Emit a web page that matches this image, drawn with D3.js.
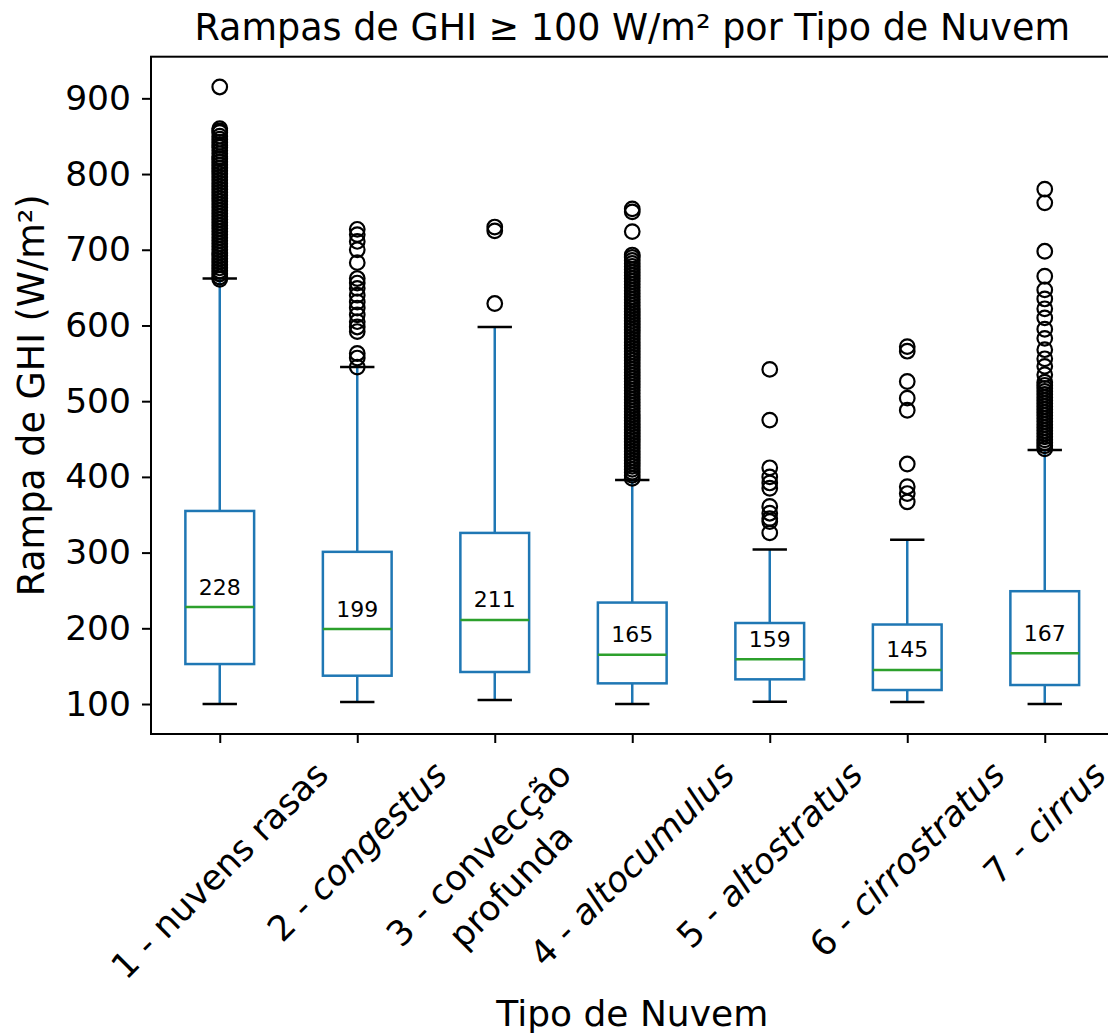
<!DOCTYPE html>
<html>
<head>
<meta charset="utf-8">
<script src="https://cdn.jsdelivr.net/npm/d3@7"></script>
<style>
  html, body { margin: 0; padding: 0; background: #fff; }
  svg { display: block; font-family: "DejaVu Sans", sans-serif; }
</style>
</head>
<body>
<svg id="chart" width="1108" height="1033"></svg>
<script>
// ---------- DATA ----------
// each category: [prefix (upright), name, italic?] ; "\n" splits lines
const categoryPrefixes = ["1 - ", "2 - ", "3 - ", "4 - ", "5 - ", "6 - ", "7 - "];
const categoryNames    = ["nuvens rasas", "congestus", "convecção\nprofunda", "altocumulus", "altostratus", "cirrostratus", "cirrus"];
const categoryItalic   = [false, true, false, true, true, true, true];

const q1Values     = [152.8, 137.4, 142.3, 127.3, 132.6, 118.5, 125.1];
const medianValues = [228, 199, 211, 165, 159, 145, 167];
const q3Values     = [355, 301, 326, 234, 207, 205, 249];
const whiskerLow   = [100, 102.6, 105.3, 100, 103, 102.6, 100];
const whiskerHigh  = [662, 545, 598, 396, 304, 317, 435.5];
const medianLabels = ["228", "199", "211", "165", "159", "145", "167"];

const fliers1 = [915, 860, 857, 855, 850, 846, 842, 838, 835, 831, 827, 823, 820, 816, 812, 808, 804, 800,
  796, 792, 788, 784, 780, 776, 772, 768, 764, 760, 756, 752, 748, 744, 740, 736, 732, 728, 724, 720,
  716, 712, 708, 704, 700, 696, 692, 688, 684, 680, 676, 672, 668, 664, 661];
const fliers2 = [727, 720, 711, 700, 683, 662, 656, 649, 640, 631, 623, 614, 605, 598, 592, 563, 557, 545];
const fliers3 = [730, 725, 629];
const fliers4 = [754, 750, 724, 693, 690, 686, 682, 678, 674, 670, 666, 662, 658, 654, 650, 646, 642, 638,
  634, 630, 626, 622, 618, 614, 610, 606, 602, 598, 594, 590, 586, 582, 578, 574, 570, 566, 562, 558,
  554, 550, 546, 542, 538, 534, 530, 526, 522, 518, 514, 510, 506, 502, 498, 494, 490, 486, 482, 478,
  474, 470, 466, 462, 458, 454, 450, 446, 442, 438, 434, 430, 426, 422, 418, 414, 410, 406, 402, 398];
const fliers5 = [542, 475, 412, 400, 392, 385, 361, 352, 345, 341, 326];
const fliers6 = [572, 566, 526, 504, 488, 417, 387, 378, 367];
const fliers7 = [780, 762, 698, 665, 647, 635, 622, 610, 595, 583, 568, 556, 546, 535, 525, 521, 517, 513,
  509, 505, 501, 497, 493, 489, 485, 481, 477, 473, 469, 465, 461, 457, 453, 449, 445, 441, 437];
const fliers = [fliers1, fliers2, fliers3, fliers4, fliers5, fliers6, fliers7];

const yTicks = [100, 200, 300, 400, 500, 600, 700, 800, 900];

const titleText = "Rampas de GHI ≥ 100 W/m² por Tipo de Nuvem";
const xLabelText = "Tipo de Nuvem";
const yLabelText = "Rampa de GHI (W/m²)";

// ---------- LAYOUT ----------
const plotLeft = 151, plotRight = 1113.5, plotTop = 56.7, plotBottom = 734;
const svg = d3.select("#chart");

const x = d3.scaleLinear().domain([0.5, 7.5]).range([plotLeft, plotRight]);
const y = d3.scaleLinear().domain([60.4, 955]).range([plotBottom, plotTop]);

const boxW = (x(1) - x(0)) * 0.5;
const capW = boxW * 0.5;

const BLUE = "#1f77b4", GREEN = "#2ca02c";
const LW = 2.5;

const stats = categoryNames.map((c, i) => ({
  pos: i + 1, q1: q1Values[i], med: medianValues[i], q3: q3Values[i],
  lo: whiskerLow[i], hi: whiskerHigh[i], label: medianLabels[i], fl: fliers[i]
}));

const marks = svg.append("g");

// whiskers
marks.selectAll(".wlo").data(stats).join("line")
  .attr("x1", d => x(d.pos)).attr("x2", d => x(d.pos))
  .attr("y1", d => y(d.q1)).attr("y2", d => y(d.lo))
  .attr("stroke", BLUE).attr("stroke-width", LW);
marks.selectAll(".whi").data(stats).join("line")
  .attr("x1", d => x(d.pos)).attr("x2", d => x(d.pos))
  .attr("y1", d => y(d.q3)).attr("y2", d => y(d.hi))
  .attr("stroke", BLUE).attr("stroke-width", LW);

// boxes
marks.selectAll(".box").data(stats).join("rect")
  .attr("x", d => x(d.pos) - boxW / 2).attr("width", boxW)
  .attr("y", d => y(d.q3)).attr("height", d => y(d.q1) - y(d.q3))
  .attr("fill", "none").attr("stroke", BLUE).attr("stroke-width", LW);

// caps
["lo", "hi"].forEach(k => {
  marks.selectAll(".cap" + k).data(stats).join("line")
    .attr("x1", d => x(d.pos) - capW / 2).attr("x2", d => x(d.pos) + capW / 2)
    .attr("y1", d => y(d[k])).attr("y2", d => y(d[k]))
    .attr("stroke", "#000").attr("stroke-width", LW);
});

// medians
marks.selectAll(".med").data(stats).join("line")
  .attr("x1", d => x(d.pos) - boxW / 2).attr("x2", d => x(d.pos) + boxW / 2)
  .attr("y1", d => y(d.med)).attr("y2", d => y(d.med))
  .attr("stroke", GREEN).attr("stroke-width", LW);

// fliers
stats.forEach(d => {
  marks.append("g").selectAll("circle").data(d.fl).join("circle")
    .attr("cx", x(d.pos)).attr("cy", v => y(v)).attr("r", 7.3)
    .attr("fill", "none").attr("stroke", "#000").attr("stroke-width", 2.2);
});

// median annotations
marks.selectAll(".ann").data(stats).join("text")
  .attr("x", d => x(d.pos)).attr("y", d => y(d.med) - 12.5)
  .attr("text-anchor", "middle").attr("font-size", 22).attr("fill", "#000")
  .text(d => d.label);

// ---------- AXES ----------
const yAxis = d3.axisLeft(y).tickValues(yTicks).tickSize(9).tickPadding(11).tickFormat(d3.format("d"));
const gy = svg.append("g").attr("transform", `translate(${plotLeft},0)`).call(yAxis);
gy.select(".domain").remove();
gy.selectAll(".tick line").attr("stroke", "#000").attr("stroke-width", 2);
gy.selectAll(".tick text").attr("font-size", 34.5).attr("fill", "#000")
  .attr("font-family", "DejaVu Sans");

const xAxis = d3.axisBottom(x).tickValues(stats.map(d => d.pos)).tickSize(9).tickFormat(() => "");
const gx = svg.append("g").attr("transform", `translate(0,${plotBottom})`).call(xAxis);
gx.select(".domain").remove();
gx.selectAll(".tick line").attr("stroke", "#000").attr("stroke-width", 2);

// rotated x tick labels
const xLabFont = 35, lineH = 45, labelTop = 754;
categoryNames.forEach((name, i) => {
  const g = svg.append("g").attr("transform", `translate(${x(i + 1)},${labelTop})`);
  const inner = g.append("g").attr("transform", "rotate(-45)");
  const t = inner.append("text").attr("text-anchor", "middle")
    .attr("font-size", xLabFont).attr("fill", "#000");
  const lines = (categoryPrefixes[i] + name).split("\n");
  lines.forEach((ln, j) => {
    const ts = t.append("tspan").attr("x", 0).attr("dy", j === 0 ? 0 : lineH);
    if (j === 0 && categoryItalic[i]) {
      ts.append("tspan").text(categoryPrefixes[i]);
      ts.append("tspan").attr("font-style", "italic").text(ln.slice(categoryPrefixes[i].length));
    } else {
      ts.text(ln);
    }
  });
  const bb = g.node().getBBox();
  inner.attr("transform", `translate(${-(bb.x + bb.width / 2)},${-bb.y}) rotate(-45)`);
});

// spines
const sp = svg.append("g").attr("stroke", "#000").attr("stroke-width", 2).attr("fill", "none");
sp.append("rect").attr("x", plotLeft).attr("y", plotTop)
  .attr("width", plotRight - plotLeft).attr("height", plotBottom - plotTop);

// title and labels
svg.append("text").attr("x", (plotLeft + plotRight) / 2).attr("y", 40)
  .attr("text-anchor", "middle").attr("font-size", 36.5).attr("fill", "#000").text(titleText);
svg.append("text").attr("x", (plotLeft + plotRight) / 2).attr("y", 1026)
  .attr("text-anchor", "middle").attr("font-size", 36).attr("fill", "#000").text(xLabelText);
svg.append("text")
  .attr("transform", `translate(44,${(plotTop + plotBottom) / 2}) rotate(-90)`)
  .attr("text-anchor", "middle").attr("font-size", 36.5).attr("fill", "#000").text(yLabelText);
</script>
</body>
</html>
